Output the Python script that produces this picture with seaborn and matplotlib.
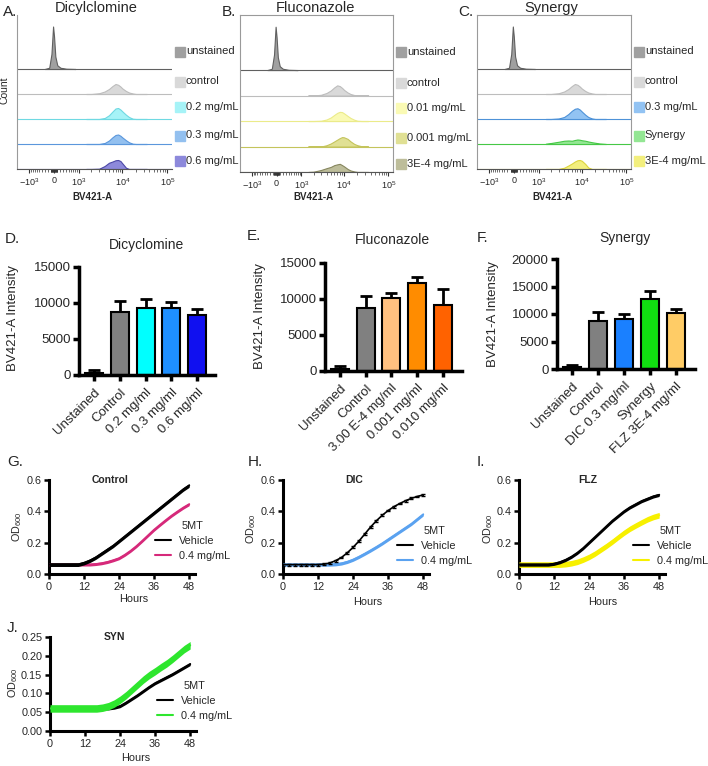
import matplotlib
matplotlib.use("Agg")
import numpy as np
import pandas as pd
import matplotlib.pyplot as plt
from matplotlib.lines import Line2D
import seaborn as sns

W, H = 708, 766

# ---------------- flow histograms (A-C) ----------------
# x in BV421-A units, heights in lane units
unst_x = [-300, -150, -80, -30, 0, 40, 100, 200, 400, 800]
unst_h = [0, 0.05, 0.6, 1.7, 1.3, 0.5, 0.15, 0.05, 0.01, 0]
stain_x = [1500, 2000, 3000, 4000, 5000, 6000, 7000, 8000, 9000, 10000,
           12000, 14000, 17000, 20000, 25000, 35000]
ctrl_h = [0, 0, 0.03, 0.1, 0.2, 0.32, 0.4, 0.37, 0.3, 0.22, 0.12, 0.06, 0.02, 0, 0, 0]

dic_labels = ["unstained", "control", "0.2 mg/mL", "0.3 mg/mL", "0.6 mg/mL"]
dic_02_h = [0, 0, 0, 0.04, 0.15, 0.3, 0.42, 0.44, 0.38, 0.3, 0.17, 0.08, 0.01, 0, 0, 0]
dic_03_h = [0, 0, 0, 0.04, 0.14, 0.27, 0.36, 0.38, 0.33, 0.26, 0.15, 0.07, 0.01, 0, 0, 0]
dic_06_h = [0, 0, 0.01, 0.12, 0.25, 0.3, 0.35, 0.36, 0.32, 0.22, 0.05, 0, 0, 0, 0, 0]

flz_labels = ["unstained", "control", "0.01 mg/mL", "0.001 mg/mL", "3E-4 mg/mL"]
flz_001_h = [0, 0, 0.01, 0.06, 0.14, 0.24, 0.32, 0.36, 0.35, 0.3, 0.2, 0.12, 0.05, 0.01, 0, 0]
flz_0001_h = [0, 0, 0, 0.05, 0.12, 0.2, 0.27, 0.33, 0.37, 0.36, 0.3, 0.2, 0.1, 0.05, 0.01, 0]
flz_3e4_h = [0, 0.01, 0.08, 0.15, 0.2, 0.27, 0.3, 0.32, 0.27, 0.22, 0.12, 0.06, 0.02, 0, 0, 0]

syn_labels = ["unstained", "control", "0.3 mg/mL", "Synergy", "3E-4 mg/mL"]
syn_dic_h = [0, 0, 0.02, 0.08, 0.2, 0.33, 0.41, 0.43, 0.38, 0.3, 0.17, 0.08, 0.02, 0, 0, 0]
syn_syn_h = [0.01, 0.04, 0.09, 0.13, 0.14, 0.13, 0.16, 0.18, 0.17, 0.15, 0.13, 0.1, 0.07, 0.05, 0.02, 0]
syn_flz_h = [0, 0, 0, 0.05, 0.14, 0.22, 0.3, 0.35, 0.36, 0.33, 0.2, 0.06, 0, 0, 0, 0]

# ---------------- bar charts (D-F) ----------------
dic_cats = ["Unstained", "Control", "0.2 mg/ml", "0.3 mg/ml", "0.6 mg/ml"]
dic_mfi = [250, 8800, 9250, 9250, 8350]
dic_sem = [500, 1480, 1300, 920, 840]

flz_cats = ["Unstained", "Control", "3.00 E-4 mg/ml", "0.001 mg/ml", "0.010 mg/ml"]
flz_mfi = [250, 8800, 10200, 12250, 9150]
flz_sem = [450, 1650, 700, 750, 2250]

syn_cats = ["Unstained", "Control", "DIC 0.3 mg/ml", "Synergy", "FLZ 3E-4 mg/ml"]
syn_mfi = [300, 8800, 9100, 12800, 10200]
syn_sem = [450, 1520, 920, 1390, 790]

# ---------------- growth curves (G-J) ----------------
hours = [0, 2, 4, 6, 8, 10, 12, 14, 16, 18, 20, 22, 24, 26, 28, 30, 32, 34, 36, 38, 40, 42, 44, 46, 48]
ctl_veh = [0.06, 0.06, 0.06, 0.06, 0.06, 0.06, 0.07, 0.085, 0.105, 0.13, 0.155, 0.18, 0.21,
           0.24, 0.27, 0.30, 0.33, 0.36, 0.39, 0.42, 0.45, 0.48, 0.51, 0.54, 0.565]
ctl_5mt = [0.06, 0.06, 0.06, 0.06, 0.06, 0.06, 0.06, 0.06, 0.063, 0.068, 0.076, 0.087, 0.10,
           0.122, 0.148, 0.178, 0.212, 0.247, 0.282, 0.313, 0.343, 0.372, 0.398, 0.423, 0.445]
dic_veh = [0.06, 0.06, 0.06, 0.06, 0.06, 0.06, 0.06, 0.063, 0.07, 0.085, 0.105, 0.135, 0.17,
           0.21, 0.255, 0.30, 0.34, 0.375, 0.405, 0.43, 0.45, 0.468, 0.483, 0.495, 0.505]
dic_5mt = [0.06, 0.06, 0.06, 0.06, 0.06, 0.06, 0.06, 0.06, 0.06, 0.062, 0.067, 0.077, 0.091,
           0.109, 0.129, 0.15, 0.172, 0.195, 0.22, 0.245, 0.27, 0.295, 0.32, 0.35, 0.38]
flz_veh = [0.06, 0.06, 0.06, 0.06, 0.06, 0.06, 0.065, 0.075, 0.09, 0.11, 0.135, 0.165, 0.20,
           0.235, 0.27, 0.305, 0.34, 0.37, 0.40, 0.425, 0.445, 0.465, 0.48, 0.495, 0.505]
flz_5mt = [0.06, 0.06, 0.06, 0.06, 0.06, 0.06, 0.06, 0.06, 0.063, 0.069, 0.078, 0.092, 0.109,
           0.13, 0.155, 0.18, 0.207, 0.236, 0.264, 0.289, 0.31, 0.33, 0.349, 0.364, 0.375]
syn_veh = [0.06, 0.06, 0.06, 0.06, 0.06, 0.06, 0.06, 0.06, 0.06, 0.06, 0.06, 0.062, 0.066,
           0.075, 0.085, 0.095, 0.106, 0.117, 0.127, 0.135, 0.143, 0.151, 0.16, 0.169, 0.178]
syn_5mt = [0.06, 0.06, 0.06, 0.06, 0.06, 0.06, 0.06, 0.06, 0.06, 0.062, 0.066, 0.073, 0.083,
           0.095, 0.109, 0.123, 0.137, 0.149, 0.159, 0.17, 0.18, 0.192, 0.205, 0.218, 0.228]

# ---------------- style ----------------
sns.set_style("white")
plt.rcParams["font.family"] = ["Liberation Sans", "DejaVu Sans"]
plt.rcParams["mathtext.fontset"] = "custom"
plt.rcParams["mathtext.rm"] = "Liberation Sans"
plt.rcParams["mathtext.default"] = "regular"

fig = plt.figure(figsize=(W / 100, H / 100), dpi=100)


def px_rect(x0, y0, x1, y1):
    return [x0 / W, 1 - y1 / H, (x1 - x0) / W, (y1 - y0) / H]


def ftext(x, y, s, **kw):
    kw.setdefault("ha", "center")
    kw.setdefault("va", "center")
    fig.text(x / W, 1 - y / H, s, **kw)


lab_off = [0.7, 0.5, 0.5, 0.34, 0.32]


def flow_panel(box, labels, curves, fills, edges, frame):
    ax = fig.add_axes(px_rect(*box))
    ax.set_xscale("asinh", linear_width=600)
    lanes = [(unst_x, unst_h)] + [(stain_x, c) for c in curves]
    n = len(curves)
    for i, ((xs, hs), fc, ec, lab) in enumerate(zip(lanes, fills, edges, labels)):
        base = n - i
        ax.axhline(base, color=ec, lw=0.8, zorder=1)
        ax.fill_between(xs, base, np.asarray(hs) + base, facecolor=fc,
                        edgecolor=ec, lw=0.8, zorder=2)
        ty = base + lab_off[i]
        ax.plot([1.05], [ty], marker="s", ms=6.5, color=fc, mec=fc,
                transform=ax.get_yaxis_transform(), clip_on=False)
        ax.text(1.09, ty, lab, transform=ax.get_yaxis_transform(),
                va="center", ha="left", fontsize=8)
    ax.set_xlim(-1960, 127000)
    ax.set_ylim(0, 6.16)
    ax.set_yticks([])
    ax.set_xticks([-1000, 0, 1000, 10000, 100000],
                  [r"$-10^3$", "0", r"$10^3$", r"$10^4$", r"$10^5$"])
    minor = []
    for dec in (10, 100):
        minor += [m * dec for m in range(1, 10)] + [-m * dec for m in range(1, 10)]
    for dec in (1000, 10000):
        minor += [m * dec for m in range(2, 10)]
    ax.set_xticks(minor, minor=True)
    ax.tick_params(axis="x", which="major", length=3, width=0.8, labelsize=6.5,
                   pad=2, color="#333333", bottom=True)
    ax.tick_params(axis="x", which="minor", length=2, width=0.5,
                   color="#333333", bottom=True)
    for side, sp in ax.spines.items():
        sp.set_linewidth(0.8)
        sp.set_color("#9a9a9a")
        if not frame and side in ("top", "right"):
            sp.set_visible(False)
    ax.spines["bottom"].set_color("#555555")
    return ax


flow_panel((17, 15, 172, 169), dic_labels, [ctrl_h, dic_02_h, dic_03_h, dic_06_h],
           ["#a0a0a0", "#d9d9d9", "#a6f3f7", "#93c0ef", "#8d89db"],
           ["#606060", "#bdbdbd", "#6fd9e2", "#5b97dc", "#4c48a6"], frame=False)
flow_panel((240, 15, 393, 172), flz_labels, [ctrl_h, flz_001_h, flz_0001_h, flz_3e4_h],
           ["#a0a0a0", "#d9d9d9", "#fafab4", "#e0e094", "#bdbd9a"],
           ["#606060", "#bdbdbd", "#ebeb8a", "#c4c45c", "#86865e"], frame=True)
flow_panel((477, 15, 631, 169), syn_labels, [ctrl_h, syn_dic_h, syn_syn_h, syn_flz_h],
           ["#a0a0a0", "#d9d9d9", "#92c3f3", "#93e693", "#f3ef7e"],
           ["#606060", "#bdbdbd", "#4e92d8", "#46c846", "#dcd43e"], frame=True)


def bar_panel(box, cats, vals, errs, colors, ymax, xmax):
    ax = fig.add_axes(px_rect(*box))
    df = pd.DataFrame({"cat": cats, "val": vals})
    sns.barplot(data=df, x="cat", y="val", hue="cat", palette=colors, legend=False,
                width=0.7, edgecolor="black", linewidth=1.5, saturation=1,
                errorbar=None, ax=ax, zorder=2)
    ax.errorbar(range(len(cats)), vals, yerr=[np.zeros(len(vals)), errs], fmt="none",
                ecolor="black", elinewidth=2, capsize=4, capthick=2, zorder=1)
    ax.set_xlim(-0.58, xmax)
    ax.set_ylim(0, ymax)
    ax.set_yticks(np.arange(0, ymax + 1, 5000))
    ax.set_xticks(range(len(cats)))
    ax.set_xticklabels(cats, rotation=45, ha="right", rotation_mode="anchor")
    ax.set_xlabel("")
    ax.set_ylabel("")
    sns.despine(ax=ax)
    for side in ("left", "bottom"):
        ax.spines[side].set_linewidth(2.5)
        ax.spines[side].set_color("black")
    ax.tick_params(direction="out", length=4, width=2.5, labelsize=9.5, pad=2,
                   left=True, bottom=True, color="black")
    ax.tick_params(axis="x", pad=4)
    return ax


bar_panel((79, 267, 215, 375), dic_cats, dic_mfi, dic_sem,
          ["#111111", "#808080", "#00ffff", "#1e8fff", "#1010f0"], 15000, 4.69)
bar_panel((325, 263, 462, 371), flz_cats, flz_mfi, flz_sem,
          ["#111111", "#808080", "#ffc080", "#ff8c00", "#ff6200"], 15000, 4.74)
bar_panel((557, 259, 695, 369), syn_cats, syn_mfi, syn_sem,
          ["#111111", "#808080", "#1a80ff", "#11e011", "#ffcc66"], 20000, 4.73)


def growth_panel(box, veh, drug, color, veh_err, drug_err, ymax, yticks, ylabels,
                 title, title_x, leg_xy, thin_vehicle=False, drug_on_top=False):
    ax = fig.add_axes(px_rect(*box))
    t = np.array(hours)
    zd, zv = (4, 3) if drug_on_top else (3, 4)
    d = np.array(drug)
    ax.fill_between(t, d - drug_err, d + drug_err, color=color, lw=0, zorder=zd)
    sns.lineplot(x=hours, y=drug, color=color, lw=1.5, ax=ax, zorder=zd)
    v = np.array(veh)
    if thin_vehicle:
        sns.lineplot(x=hours, y=veh, color="black", lw=1.2, ax=ax, zorder=zv)
        ax.errorbar(hours, veh, yerr=veh_err, fmt="none", ecolor="black",
                    elinewidth=0.8, capsize=1.5, zorder=zv)
    else:
        ax.fill_between(t, v - veh_err, v + veh_err, color="black", lw=0, zorder=zv)
        sns.lineplot(x=hours, y=veh, color="black", lw=1.5, ax=ax, zorder=zv)
    ax.set_xlim(0, 50)
    ax.set_ylim(0, ymax)
    ax.set_xticks([0, 12, 24, 36, 48])
    ax.set_yticks(yticks, ylabels)
    ax.set_xlabel("")
    ax.set_ylabel("")
    sns.despine(ax=ax)
    for side in ("left", "bottom"):
        ax.spines[side].set_linewidth(2.2)
        ax.spines[side].set_color("black")
    ax.tick_params(direction="out", length=3.5, width=1.8, labelsize=7.8, pad=2,
                   left=True, bottom=True, color="black")
    ax.text(title_x, 1.0, title, transform=ax.transAxes, ha="center", va="center",
            fontweight="bold", fontsize=7.5)
    handles = [Line2D([], [], color="black", lw=1.5), Line2D([], [], color=color, lw=1.5)]
    ax.legend(handles, ["Vehicle", "0.4 mg/mL"], title="5MT", loc="upper left",
              bbox_to_anchor=(leg_xy[0] / W, 1 - leg_xy[1] / H),
              bbox_transform=fig.transFigure, frameon=False, fontsize=7.8,
              title_fontsize=7.8, handlelength=1.5, handletextpad=0.7,
              labelspacing=0.45, borderpad=0, borderaxespad=0)
    return ax


od_ticks = [0.0, 0.2, 0.4, 0.6]
od_labels = ["0.0", "0.2", "0.4", "0.6"]
growth_panel((49, 480, 195, 574), ctl_veh, ctl_5mt, "#d6297a", 0.012, 0.009, 0.6,
             od_ticks, od_labels, "Control", 0.42, (155, 521))
growth_panel((283, 480, 429, 574), dic_veh, dic_5mt, "#5aa2f0", 0.006, 0.01, 0.6,
             od_ticks, od_labels, "DIC", 0.49, (397, 526), thin_vehicle=True)
growth_panel((519, 480, 665, 574), flz_veh, flz_5mt, "#f7f000", 0.01, 0.018, 0.6,
             od_ticks, od_labels, "FLZ", 0.47, (633, 526))
growth_panel((50, 637, 196, 731), syn_veh, syn_5mt, "#2ee62e", 0.004, 0.01, 0.25,
             [0.0, 0.05, 0.10, 0.15, 0.20, 0.25],
             ["0.00", "0.05", "0.10", "0.15", "0.20", "0.25"],
             "SYN", 0.44, (157, 681), drug_on_top=True)

# ---------------- figure texts ----------------
for s, x, y in [("A.", 3, 12), ("B.", 222, 12), ("C.", 458, 12), ("D.", 5, 239),
                ("E.", 247, 236), ("F.", 477, 238), ("G.", 7, 462), ("H.", 248, 462),
                ("I.", 477, 462), ("J.", 7, 628)]:
    ftext(x, y, s, ha="left", fontsize=11)

for s, x, y in [("Dicylclomine", 96, 8), ("Fluconazole", 315, 8), ("Synergy", 551, 8)]:
    ftext(x, y, s, fontsize=10.5)
for s, x, y in [("Dicyclomine", 146, 245), ("Fluconazole", 392, 240), ("Synergy", 625, 238)]:
    ftext(x, y, s, fontsize=10)

ftext(5, 90, "Count", rotation=90, fontsize=7.5)
for x in (92, 313, 552):
    ftext(x, 197, "BV421-A", fontsize=7, fontweight="bold")
for x, y in [(13, 318), (260, 316), (493, 314)]:
    ftext(x, y, "BV421-A Intensity", rotation=90, fontsize=9.5)
for x, y in [(17, 527), (251, 529), (488, 529), (13, 683)]:
    ftext(x, y, r"OD$_{600}$", rotation=90, fontsize=7.8)
for x, y in [(134, 599), (368, 602), (603, 602), (136, 758)]:
    ftext(x, y, "Hours", fontsize=7.8)

fig.savefig("out.png", dpi=100)
